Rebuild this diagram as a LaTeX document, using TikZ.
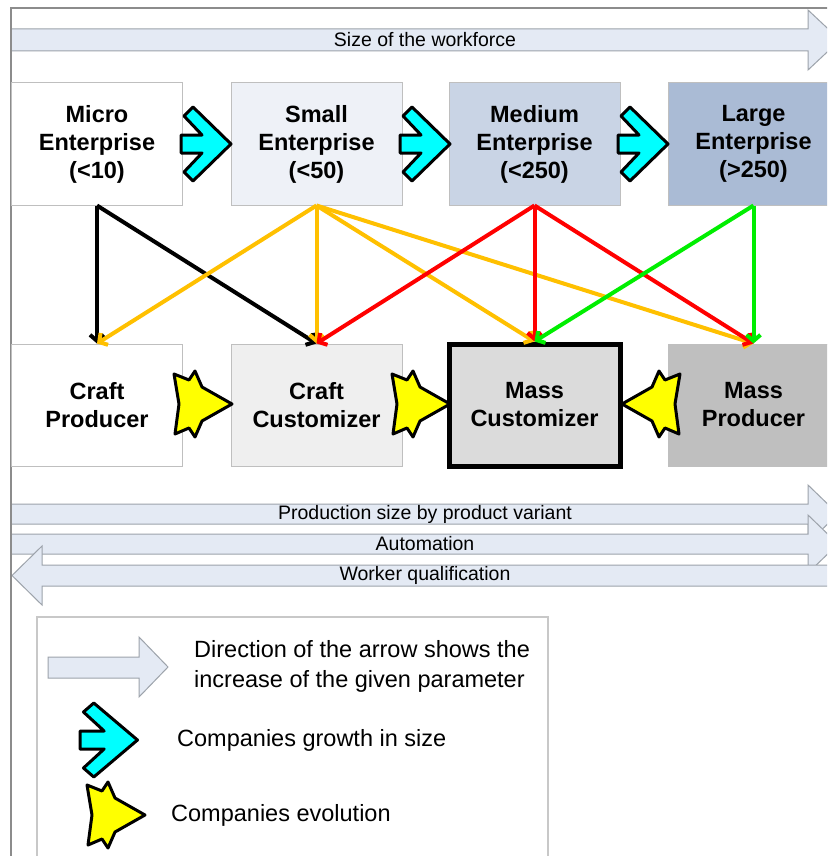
\documentclass[tikz,border=0pt]{standalone}
\usepackage{fontspec}
\setmainfont{Liberation Sans}
\usetikzlibrary{arrows.meta}
\definecolor{framegray}{HTML}{8C8C8C}
\definecolor{boxgray}{HTML}{BFBFBF}
\definecolor{smallfill}{HTML}{EEF1F7}
\definecolor{medfill}{HTML}{C9D4E5}
\definecolor{largefill}{HTML}{AABBD5}
\definecolor{ccfill}{HTML}{EFEFEF}
\definecolor{mcfill}{HTML}{DBDBDB}
\definecolor{mpfill}{HTML}{BFBFBF}
\definecolor{arrfill}{HTML}{E4EAF4}
\definecolor{arrdraw}{HTML}{9DA3AB}
\definecolor{legendgray}{HTML}{C8C8C8}
\definecolor{gold}{HTML}{FFC000}
\definecolor{linkred}{HTML}{FF0000}
\definecolor{linkgreen}{HTML}{00EE00}
\definecolor{growcyan}{HTML}{00FFFF}
\definecolor{evoyellow}{HTML}{FFFF00}
\begin{document}
\begin{tikzpicture}[x=1pt,y=-1pt,
  box/.style={draw=boxgray, line width=1pt, minimum width=171pt, minimum height=122pt,
    align=center, text=black, font=\fontsize{23.5}{28}\selectfont\bfseries, inner sep=0pt},
  bigarrow/.style={fill=arrfill, draw=arrdraw, line width=1pt},
  lbl/.style={font=\fontsize{19.5}{23}\selectfont, inner sep=0pt, text=black},
  legtext/.style={font=\fontsize{23.5}{30}\selectfont, align=left, anchor=west, inner sep=0pt},
  conn/.style={line width=4pt, -{Straight Barb[length=6pt,width=14pt]}},
  growstyle/.style={fill=growcyan, draw=black, line width=3pt, line join=round},
  evostyle/.style={fill=evoyellow, draw=black, line width=3pt, line join=round},
  grow/.pic={\path[growstyle] (50,0) -- (12,-37) -- (3,-28) -- (21,-9) -- (0,-9) -- (0,9)
      -- (21,9) -- (3,28) -- (12,37) -- cycle;},
  evo/.pic={\path[evostyle] (0,-30) -- (15,-24) -- (21,-33) -- (28,-17) -- (58,0) -- (28,17)
      -- (21,33) -- (15,24) -- (1,30) -- (5,0) -- cycle;},
]
\useasboundingbox (0,0) rectangle (827,856);
\clip (0,0) rectangle (827,856);
\fill[white] (0,0) rectangle (827,856);

% parameter arrows
\path[bigarrow] (11,29) -- (808,29) -- (808,10) -- (840,40) -- (808,70) -- (808,51) -- (11,51) -- cycle;
\node[lbl] (lw) at (425,40) {Size of the workforce};
\path[bigarrow] (11,504) -- (808,504) -- (808,485) -- (838,514) -- (808,543) -- (808,524) -- (11,524) -- cycle;
\node[lbl] (ps) at (425,514) {Production size by product variant};
\path[bigarrow] (11,534) -- (808,534) -- (808,515) -- (838,544) -- (808,573) -- (808,554) -- (11,554) -- cycle;
\node[lbl] (au) at (425,544) {Automation};
\path[bigarrow] (840,565) -- (42,565) -- (42,546) -- (12,575.5) -- (42,605) -- (42,586) -- (840,586) -- cycle;
\node[lbl] (wq) at (425,575) {Worker qualification};

% frame
\draw[framegray, line width=2pt] (11,860) -- (11,8) -- (830,8);

% enterprise boxes
\node[box, fill=white] (micro) at (97,144) {Micro\\Enterprise\\(<10)};
\node[box, fill=smallfill] (small) at (316.5,144) {Small\\Enterprise\\(<50)};
\node[box, fill=medfill] (medium) at (534.5,144) {Medium\\Enterprise\\(<250)};
\node[box, fill=largefill] (large) at (753.5,144) {Large\\Enterprise\\(>250)};

% producer boxes
\node[box, fill=white] (cp) at (97,405) {Craft\\Producer};
\node[box, fill=ccfill] (cc) at (316.5,405) {Craft\\Customizer};
\node[box, fill=mcfill, draw=black, line width=5pt] (mc) at (534.5,405) {Mass\\Customizer};
\node[box, fill=mpfill] (mp) at (753.5,405) {Mass\\Producer};

% growth arrows
\pic at (181,144) {grow};
\pic at (400,144) {grow};
\pic at (618,144) {grow};

% evolution arrows
\pic at (174,404) {evo};
\pic at (392,404) {evo};
\pic[xscale=-1] at (680,404) {evo};

% connectors
\draw[conn, black] (micro.south) -- (cp.north);
\draw[conn, black] (micro.south) -- (cc.north);
\draw[conn, gold] (small.south) -- (cp.north);
\draw[conn, gold] (small.south) -- (cc.north);
\draw[conn, gold] (small.south) -- (mc.north);
\draw[conn, gold] (small.south) -- (mp.north);
\draw[conn, linkred] (medium.south) -- (cc.north);
\draw[conn, linkred] (medium.south) -- (mc.north);
\draw[conn, linkred] (medium.south) -- (mp.north);
\draw[conn, linkgreen] (large.south) -- (mc.north);
\draw[conn, linkgreen] (large.south) -- (mp.north);

% legend
\draw[legendgray, line width=1.2pt, fill=white] (37,870) -- (37,617) -- (548,617) -- (548,870);
\path[bigarrow] (48,657) -- (139,657) -- (139,637) -- (168,667) -- (139,697) -- (139,678) -- (48,678) -- cycle;
\node[legtext] (l1) at (194,666) {Direction of the arrow shows the\\increase of the given parameter};
\pic[xscale=1.15] at (80,740) {grow};
\node[legtext] (l2) at (177,740) {Companies growth in size};
\pic at (87,815) {evo};
\node[legtext] (l3) at (171,815) {Companies evolution};
\end{tikzpicture}
\end{document}
